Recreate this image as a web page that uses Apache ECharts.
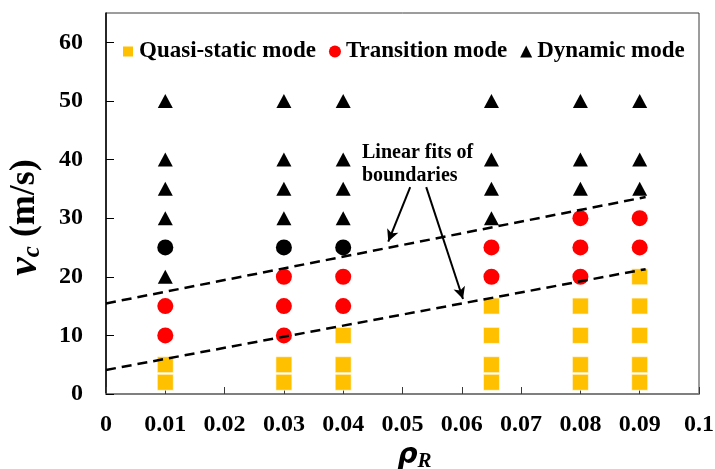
<!DOCTYPE html>
<html>
<head>
<meta charset="utf-8">
<script src="https://cdn.jsdelivr.net/npm/echarts@6/dist/echarts.min.js"></script>
<style>
  html, body { margin: 0; padding: 0; background: #fff; }
  #chart { width: 715px; height: 469px; }
</style>
</head>
<body>
<div id="chart"></div>
<script>
// Failure-mode map: reinforcement ratio rho_R vs. critical velocity v_c
const quasiStatic = [
  [0.01, 2], [0.01, 5],
  [0.03, 2], [0.03, 5],
  [0.04, 2], [0.04, 5], [0.04, 10],
  [0.065, 2], [0.065, 5], [0.065, 10], [0.065, 15],
  [0.08, 2], [0.08, 5], [0.08, 10], [0.08, 15],
  [0.09, 2], [0.09, 5], [0.09, 10], [0.09, 15], [0.09, 20]
];
const transition = [
  [0.01, 10], [0.01, 15],
  [0.03, 10], [0.03, 15], [0.03, 20],
  [0.04, 15], [0.04, 20],
  [0.065, 20], [0.065, 25],
  [0.08, 20], [0.08, 25], [0.08, 30],
  [0.09, 25], [0.09, 30]
];
const mixedPoints = [[0.01, 25], [0.03, 25], [0.04, 25]];
const dynamic = [
  [0.01, 20], [0.01, 30], [0.01, 35], [0.01, 40], [0.01, 50],
  [0.03, 30], [0.03, 35], [0.03, 40], [0.03, 50],
  [0.04, 30], [0.04, 35], [0.04, 40], [0.04, 50],
  [0.065, 30], [0.065, 35], [0.065, 40], [0.065, 50],
  [0.08, 35], [0.08, 40], [0.08, 50],
  [0.09, 35], [0.09, 40], [0.09, 50]
];
// Linear fits of the mode boundaries (end points)
const upperFit = [[0, 15.45], [0.091, 33.6]];
const lowerFit = [[0, 4.1], [0.091, 21.3]];
// Annotation arrows: [start, tip] in data units
const arrows = [
  [[0.0513, 35.3], [0.0476, 26.0]],
  [[0.0540, 35.3], [0.0602, 16.2]]
];
const legendNames = ['Quasi-static mode', 'Transition mode', 'Dynamic mode'];
const xTicks = { min: 0, max: 0.1, step: 0.01 };
const yTicks = { min: 0, max: 65, step: 10, lastLabel: 60 };

const serif = '"Liberation Serif", "Times New Roman", serif';
const chart = echarts.init(document.getElementById('chart'));

chart.setOption({
  animation: false,
  backgroundColor: '#fff',
  textStyle: { fontFamily: serif },
  grid: {
    left: 106, top: 13, width: 593, height: 381,
    containLabel: false, outerBoundsMode: 'none',
    show: true, borderColor: '#3a3a3a', borderWidth: 1
  },
  legend: {
    data: [
      { name: legendNames[0], icon: 'rect' },
      { name: legendNames[1], icon: 'circle' },
      { name: legendNames[2], icon: 'triangle' }
    ],
    left: 116, top: 35,
    itemWidth: 12, itemHeight: 12, itemGap: 13,
    textStyle: { fontFamily: serif, fontWeight: 'bold', fontSize: 23, color: '#000', padding: [0, 0, 0, 0] },
    selectedMode: false
  },
  xAxis: {
    type: 'value',
    min: xTicks.min, max: xTicks.max, interval: xTicks.step,
    splitLine: { show: false },
    axisLine: { onZero: false, lineStyle: { color: '#7f7f7f', width: 2 } },
    axisTick: { inside: true, length: 7, lineStyle: { color: '#3a3a3a', width: 1 } },
    axisLabel: {
      margin: 19, color: '#000', fontFamily: serif, fontWeight: 'bold', fontSize: 24,
      formatter: v => String(+v.toFixed(3))
    },
    name: '{r|ρ}{s|R}',
    nameLocation: 'middle', nameGap: 45,
    nameTextStyle: {
      padding: [0, 0, 0, 24],
      rich: {
        r: { fontFamily: '"DejaVu Sans", sans-serif', fontStyle: 'italic', fontWeight: 'bold', fontSize: 28, color: '#000' },
        s: { fontFamily: serif, fontStyle: 'italic', fontWeight: 'bold', fontSize: 21, color: '#000', padding: [12, 0, 0, 0] }
      }
    }
  },
  yAxis: {
    type: 'value',
    min: yTicks.min, max: yTicks.max, interval: yTicks.step,
    splitLine: { show: false },
    axisLine: { onZero: false, lineStyle: { color: '#000', width: 1.5 } },
    axisTick: { inside: true, length: 8, lineStyle: { color: '#000', width: 1 } },
    axisLabel: {
      margin: 23, color: '#000', fontFamily: serif, fontWeight: 'bold', fontSize: 24,
      showMaxLabel: false,
      formatter: v => (v > yTicks.lastLabel ? '' : String(v))
    },
    name: '{v|v}{c|c}{u| (m/s)}',
    nameLocation: 'middle', nameGap: 60,
    nameTextStyle: {
      padding: [0, 28, 0, 0],
      rich: {
        v: { fontFamily: serif, fontStyle: 'italic', fontWeight: 'bold', fontSize: 42, color: '#000' },
        c: { fontFamily: serif, fontStyle: 'italic', fontWeight: 'bold', fontSize: 25, color: '#000', padding: [16, 0, 0, 0] },
        u: { fontFamily: serif, fontWeight: 'bold', fontSize: 36, color: '#000' }
      }
    }
  },
  graphic: [{
    type: 'text', left: 362, top: 141, silent: true,
    style: {
      text: 'Linear fits of\nboundaries',
      font: 'bold 20px ' + serif,
      fill: '#000', lineHeight: 23
    }
  }],
  series: [
    {
      name: 'upper fit', type: 'line', data: upperFit, symbol: 'none', silent: true, z: 3,
      lineStyle: { color: '#000', width: 2.5, type: [10, 6] }
    },
    {
      name: 'lower fit', type: 'line', data: lowerFit, symbol: 'none', silent: true, z: 3,
      lineStyle: { color: '#000', width: 2.5, type: [10, 6] },
      markLine: {
        silent: true, symbol: ['none', 'arrow'], symbolSize: [9, 12],
        label: { show: false },
        lineStyle: { color: '#000', width: 2, type: 'solid' },
        emphasis: { disabled: true },
        data: arrows.map(a => [{ coord: a[0] }, { coord: a[1] }])
      }
    },
    {
      name: legendNames[0], type: 'scatter', data: quasiStatic,
      symbol: 'rect', symbolSize: 16, z: 2,
      itemStyle: { color: '#FFC000', opacity: 1, borderColor: '#fff', borderWidth: 0.6 }
    },
    {
      name: legendNames[1], type: 'scatter', data: transition,
      symbol: 'circle', symbolSize: 16, z: 2,
      itemStyle: { color: '#FF0000', opacity: 1 }
    },
    {
      name: 'mixed', type: 'scatter', data: mixedPoints,
      symbol: 'circle', symbolSize: 16, z: 2,
      itemStyle: { color: '#000', opacity: 1 }
    },
    {
      name: legendNames[2], type: 'scatter', data: dynamic,
      symbol: 'triangle', symbolSize: [15, 14], z: 2,
      itemStyle: { color: '#000', opacity: 1 }
    }
  ]
});
</script>
</body>
</html>
